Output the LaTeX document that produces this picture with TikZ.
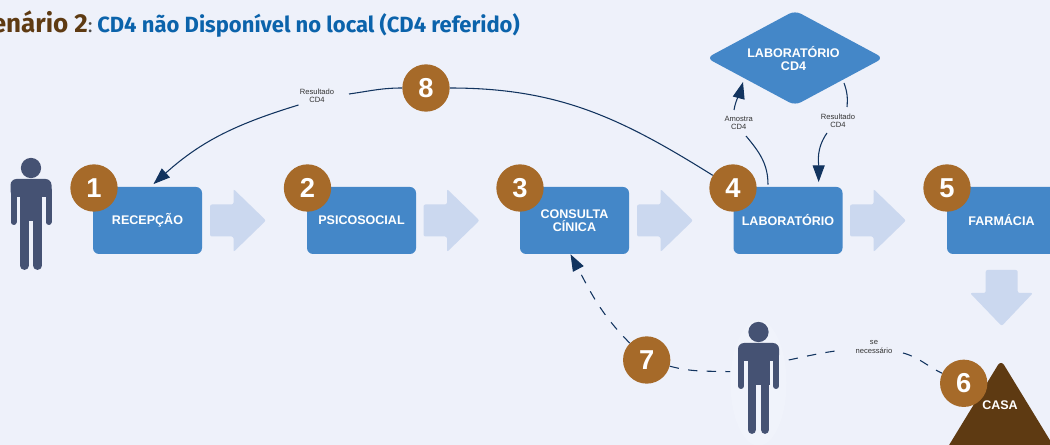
\documentclass[tikz,border=0pt]{standalone}
\usepackage{fontspec}
\setmainfont{Liberation Sans}
\newfontfamily\titlefont{Fira Sans}
\usetikzlibrary{arrows.meta}
\definecolor{fundo}{HTML}{EEF1FA}
\definecolor{halo}{HTML}{F0F3FB}
\definecolor{caixa}{HTML}{4487C8}
\definecolor{seta}{HTML}{CBD8EF}
\definecolor{ocre}{HTML}{A66A29}
\definecolor{terra}{HTML}{5E3A12}
\definecolor{pessoacor}{HTML}{455273}
\definecolor{ligacao}{HTML}{12345F}
\definecolor{titulo}{HTML}{0B63AB}
\tikzset{
  etapa/.style={fill=caixa, text=white, rounded corners=4.5pt, minimum width=81.75pt,
    minimum height=50.25pt, inner sep=0pt, align=center,
    font=\fontsize{9.4}{10}\selectfont\bfseries},
  rotulo/.style={text=white, inner sep=0pt, align=center,
    font=\fontsize{9.4}{10}\selectfont\bfseries},
  numero/.style={circle, fill=ocre, text=white, minimum size=35.5pt, inner sep=0pt,
    font=\fontsize{20.5}{21}\selectfont\bfseries},
  nota/.style={align=center, inner sep=0pt, text=black!80,
    font=\fontsize{5.7}{6.3}\selectfont},
  ligar/.style={draw=ligacao, line width=0.8pt},
  ligarfim/.style={ligar, -{Triangle[length=12.5pt,width=9pt]}},
  tracejado/.style={dash pattern=on 7pt off 7pt},
  blocoseta/.pic={
    \fill[seta, rounded corners=1.5pt] (0,-16) -- (23.5,-16) -- (23.5,-31.5) -- (56,0)
      -- (23.5,31.5) -- (23.5,16) -- (0,16) -- cycle;
  },
  pessoa/.pic={
    \fill[pessoacor] (0,0) circle (7.6pt);
    \fill[pessoacor, rounded corners=4.5pt] (-20.5,29) -- (-20.5,11) -- (20.5,11) -- (20.5,29) -- cycle;
    \fill[pessoacor] (-11,20) rectangle (11,53);
    \draw[pessoacor, line width=4.5pt, line cap=round] (-17.5,22) -- (-17.5,54);
    \draw[pessoacor, line width=4.5pt, line cap=round] (17.5,22) -- (17.5,54);
    \draw[pessoacor, line width=6.5pt, line cap=round] (-6.6,50) -- (-6.6,97.6);
    \draw[pessoacor, line width=6.5pt, line cap=round] (6.6,50) -- (6.6,97.6);
  }
}
\begin{document}
\begin{tikzpicture}[x=0.75pt,y=-0.75pt]
  \useasboundingbox[fill=fundo] (0,0) rectangle (1050,445);

  % titulo
  \node[anchor=base east, inner sep=0pt, font=\titlefont\fontsize{19.5}{22}\selectfont\bfseries] (cenario)
    at (93,33) {\textcolor{terra}{Cenário 2}\textcolor{black!70}{\fontsize{15}{15}\selectfont\mdseries:}};
  \node[anchor=base west, inner sep=0pt, text=titulo, font=\titlefont\fontsize{16.5}{18}\selectfont\bfseries] (subtitulo)
    at (97,33) {CD4 não Disponível no local (CD4 referido)};

  % setas entre etapas
  \foreach \x in {210,423.5,637,850}
    \pic at (\x,220.5) {blocoseta};
  \fill[seta, rounded corners=1.5pt] (985.7,270) -- (1017.7,270) -- (1017.7,293) -- (1033,293)
    -- (1001.7,326) -- (970,293) -- (985.7,293) -- cycle;

  % pessoas
  \pic at (31,168) {pessoa};
  \fill[halo] (758.5,383) ellipse (21pt and 47pt);
  \pic at (758.5,332) {pessoa};
  \node[minimum width=42pt, minimum height=77pt, inner sep=0pt] (pessoa2) at (758.5,383) {};

  % etapas
  \node[etapa] (recepcao) at (147.5,220.5) {RECEPÇÃO};
  \node[etapa] (psicosocial) at (361.5,220.5) {PSICOSOCIAL};
  \node[etapa] (consulta) at (574.5,220.5) {CONSULTA\\CÍNICA};
  \node[etapa] (laboratorio) at (788,220.5) {LABORATÓRIO};
  \node[etapa] (farmacia) at (1001.5,220.5) {FARMÁCIA};
  \fill[caixa, rounded corners=5pt] (706.6,58) -- (795,10.6) -- (883.4,58) -- (795,105.4) -- cycle;
  \node[rotulo] (labcd4) at (793.5,58.5) {LABORATÓRIO\\CD4};
  \fill[terra, rounded corners=4.5pt] (943,455) -- (1001,360) -- (1059,455) -- cycle;

  % numeros
  \node[numero] (n1) at (94,188) {1};
  \node[numero] (n2) at (307.5,188) {2};
  \node[numero] (n3) at (520,188) {3};
  \node[numero] (n4) at (733,188) {4};
  \node[numero] (n5) at (947,188) {5};
  \node[numero] (n6) at (963.7,383.3) {6};
  \node[numero] (n7) at (646.7,360) {7};
  \node[numero] (n8) at (426,88) {8};
  \node[rotulo] (casa) at (1000,405) {CASA};

  % notas
  \node[nota] (resultado8) at (317,96) {Resultado\\CD4};
  \node[nota] (amostra) at (738.7,123) {Amostra\\CD4};
  \node[nota] (resultado4) at (838,121) {Resultado\\CD4};
  \node[nota] (senec) at (874,347) {se\\necessário};

  % pontas livres das ligacoes
  \coordinate (r8dir) at (349,94);
  \coordinate (r8esq) at (298.5,105);
  \coordinate (amoin) at (746,136);
  \coordinate (amosai) at (734,110);
  \coordinate (r4ent) at (844,83);
  \coordinate (r4fim) at (847,107);
  \coordinate (r4sai) at (827,133);
  \coordinate (senecesq) at (843,350);
  \coordinate (senecdir) at (903,353);

  % ligacoes
  \draw[ligar] (n4) to[out=148,in=0] (n8);
  \draw[ligar] (n8) to[out=180,in=8] (r8dir);
  \draw[ligarfim] (r8esq) to[out=197,in=42] ([xshift=4.5pt,yshift=2pt]recepcao.north);
  \draw[ligar] ([xshift=-15pt]laboratorio.north) ++(0,-2) to[out=90,in=-50] (amoin);
  \draw[ligarfim] (amosai) to[out=80,in=-105] (743,82);
  \draw[ligar] (r4ent) to[out=-70,in=85] (r4fim);
  \draw[ligarfim] (r4sai) to[out=-125,in=90] ([xshift=23pt,yshift=3.5pt]laboratorio.north);
  \draw[ligarfim, tracejado] (n7) to[out=135,in=-62] ([xshift=-3pt]consulta.south);
  \draw[ligar, tracejado] (n7) to[out=-15,in=178] ([yshift=8.5pt]pessoa2.west);
  \draw[ligar, tracejado] (pessoa2.east) ++(2,-23) to[out=12,in=187] (senecesq);
  \draw[ligar, tracejado] (senecdir) to[out=-15,in=155] (n6);
\end{tikzpicture}
\end{document}
